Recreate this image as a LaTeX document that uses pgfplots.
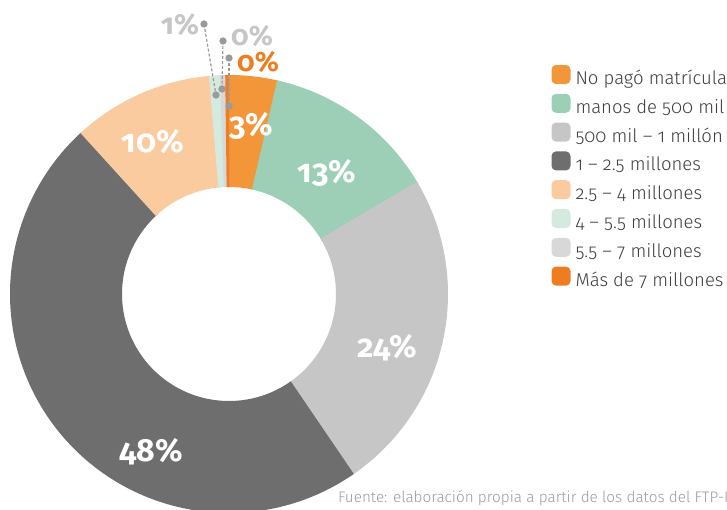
\documentclass[border=0pt]{standalone}
\usepackage{fontspec}
\setmainfont{Fira Sans}[UprightFont=* Light, BoldFont=* Bold, Numbers=OldStyle]
\usepackage{pgfplots}
\pgfplotsset{compat=1.18}
\definecolor{cA}{HTML}{F39539}
\definecolor{cB}{HTML}{9DCFB7}
\definecolor{cC}{HTML}{C6C6C6}
\definecolor{cD}{HTML}{6E6E6E}
\definecolor{cE}{HTML}{FACB9E}
\definecolor{cF}{HTML}{D4EADF}
\definecolor{cG}{HTML}{D8D8D8}
\definecolor{cH}{HTML}{EE7D22}
\definecolor{cDot}{HTML}{9A9A9A}
\definecolor{cTxt}{HTML}{3C3C3C}
\definecolor{cSrc}{HTML}{9B9B9B}
\newcommand{\legsq}[1]{\path[fill=#1, draw=none, line width=0pt, rounded corners=4.5pt] (0pt,-4.5pt) rectangle (19pt,14.5pt);}
\pgfplotsset{seg/.style={draw=#1, line width=112pt, line cap=butt, no marks,
  legend image code/.code={\legsq{#1}}}}
\begin{document}
\begin{tikzpicture}
\useasboundingbox (0,0) rectangle (727pt,509pt);
\begin{axis}[at={(0,0)}, anchor=south west, width=727pt, height=509pt, scale only axis,
  xmin=0, xmax=727, ymin=0, ymax=509, hide axis, clip=true,
  legend cell align=left,
  legend style={at={(axis cs:551.5,444)}, anchor=north west, draw=none, fill=none,
    inner sep=0pt, outer sep=0pt, row sep=4.8pt,
    font=\fontsize{18.5}{18.5}\selectfont\color{cTxt},
    nodes={inner xsep=5pt, inner ysep=0pt, text height=14.5pt, text depth=4.5pt}}]
% cumulative percentages: 0, 3.5, 16.4, 40.3, 88.1, 98.5, 99.3, 99.7, 100
% (each arc is drawn a little past its ends, under its neighbours, to avoid seams)
\addplot[seg=cA, domain=-0.2:3.75, samples=16]    ({229+163*sin(3.6*x)},{215+163*cos(3.6*x)});
\addlegendentry{No pagó matrícula}
\addplot[seg=cB, domain=3.5:16.65, samples=50] ({229+163*sin(3.6*x)},{215+163*cos(3.6*x)});
\addlegendentry{manos de 500 mil}
\addplot[seg=cC, domain=16.4:40.55, samples=90] ({229+163*sin(3.6*x)},{215+163*cos(3.6*x)});
\addlegendentry{500 mil – 1 millón}
\addplot[seg=cD, domain=40.3:88.35, samples=150] ({229+163*sin(3.6*x)},{215+163*cos(3.6*x)});
\addlegendentry{1 – 2.5 millones}
\addplot[seg=cE, domain=88.1:98.75, samples=40] ({229+163*sin(3.6*x)},{215+163*cos(3.6*x)});
\addlegendentry{2.5 – 4 millones}
\addplot[seg=cF, domain=98.5:99.55, samples=4] ({229+163*sin(3.6*x)},{215+163*cos(3.6*x)});
\addlegendentry{4 – 5.5 millones}
\addplot[seg=cG, domain=99.3:99.95, samples=3] ({229+163*sin(3.6*x)},{215+163*cos(3.6*x)});
\addlegendentry{5.5 – 7 millones}
\addplot[seg=cH, domain=99.7:100, samples=3] ({229+163*sin(3.6*x)},{215+163*cos(3.6*x)});
\addlegendentry{Más de 7 millones}
% leader lines
\addplot[forget plot, draw=cDot, line width=1.2pt, dash pattern=on 3pt off 2pt,
  mark=*, mark size=3pt, mark options={solid, fill=cDot, draw=none}]
  coordinates {(204,485) (216,414)};
\addplot[forget plot, draw=cDot, line width=1.2pt, dash pattern=on 3pt off 2pt,
  mark=*, mark size=3pt, mark options={solid, fill=cDot, draw=none}]
  coordinates {(223,468) (222,420)};
\addplot[forget plot, draw=cDot, line width=1.2pt, dash pattern=on 3pt off 2pt,
  mark=*, mark size=3pt, mark options={solid, fill=cDot, draw=none}]
  coordinates {(229,451) (229,403)};
% labels
\node[text=white, font=\fontsize{32}{32}\selectfont\bfseries] at (axis cs:251,383) {3\%};
\node[text=white, font=\fontsize{32}{32}\selectfont\bfseries] at (axis cs:327,336) {13\%};
\node[text=white, font=\fontsize{32}{32}\selectfont\bfseries] at (axis cs:387,161) {24\%};
\node[text=white, font=\fontsize{32}{32}\selectfont\bfseries] at (axis cs:151,57) {48\%};
\node[text=white, font=\fontsize{32}{32}\selectfont\bfseries] at (axis cs:153,367) {10\%};
\node[text=cC, font=\fontsize{29}{29}\selectfont\bfseries] at (axis cs:180,484) {1\%};
\node[text=cC, font=\fontsize{28}{28}\selectfont\bfseries] at (axis cs:252,473) {0\%};
\node[text=cH, font=\fontsize{28}{28}\selectfont\bfseries] at (axis cs:258,447) {0\%};
\node[anchor=west, inner sep=0pt, text=cSrc, font=\fontsize{15.3}{15.3}\selectfont] at (axis cs:338,11)
  {Fuente: elaboración propia a partir de los datos del FTP-I};
\end{axis}
\end{tikzpicture}
\end{document}
